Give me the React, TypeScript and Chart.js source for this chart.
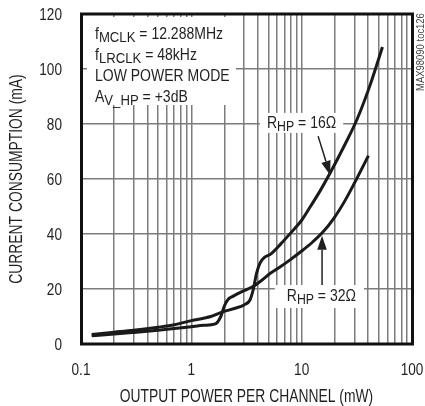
import React, { useEffect, useRef } from "react";
import { Chart, registerables } from "chart.js";

Chart.register(...registerables);

// ---- data ----
const power16: number[] = [0.125, 0.2, 0.3, 0.5, 0.7, 1, 1.5, 1.9, 2.5, 3.0, 3.4, 3.65, 3.9, 4.2, 4.6, 5.2, 6.5, 8, 10, 12, 14.6, 18, 25, 32, 42, 54];
const current16: number[] = [3.5, 4.3, 5.0, 6.1, 7.0, 8.5, 10.0, 11.6, 13.0, 14.2, 16.0, 20.0, 25.7, 29.5, 31.5, 32.6, 36.5, 40.5, 45.0, 50.0, 55.5, 62.0, 73.0, 82.0, 94.5, 108.0];

const power32: number[] = [0.125, 0.2, 0.3, 0.5, 0.7, 1, 1.3, 1.65, 1.85, 2.0, 2.15, 2.4, 3.0, 3.65, 4.3, 5.2, 6.5, 7.85, 10, 12.5, 15.5, 19.5, 25, 32, 40.3];
const current32: number[] = [3.0, 3.6, 4.2, 5.0, 5.6, 6.3, 6.8, 7.3, 10.0, 14.0, 16.2, 17.4, 19.4, 21.0, 23.0, 25.7, 28.3, 30.6, 33.8, 37.0, 40.6, 45.6, 52.5, 60.6, 68.5];

const xDecades: number[] = [-1, 0, 1];
const xMultipliers: number[] = [1, 2, 3, 4, 5, 6, 7, 8, 9];
const xLabelValues: number[] = [0.1, 1, 10, 100];
const xLabelTexts: string[] = ["0.1", "1", "10", "100"];
const yTicks: number[] = [0, 20, 40, 60, 80, 100, 120];

const xTitle = "OUTPUT POWER PER CHANNEL (mW)";
const yTitle = "CURRENT CONSUMPTION (mA)";
const sideText = "MAX98090 toc126";

const FONT = '"Liberation Sans", Arial, sans-serif';
const INK = "#231f20";
const GRID = "#7c7c7c";

type Part = { t: string; sub?: boolean };

// horizontally condensed text (emulates a narrow typeface)
function textN(ctx: CanvasRenderingContext2D, s: string, x: number, y: number, size: number, sx: number, align: CanvasTextAlign = "left") {
  ctx.save();
  ctx.font = `${size}px ${FONT}`;
  ctx.textAlign = align;
  ctx.textBaseline = "alphabetic";
  ctx.translate(x, y);
  ctx.scale(sx, 1);
  ctx.fillText(s, 0, 0);
  ctx.restore();
}

function drawRich(ctx: CanvasRenderingContext2D, x: number, y: number, parts: Part[], size: number, subSize: number, subShift: number, sx: number, doDraw = true): number {
  let cx = x;
  for (const p of parts) {
    const sz = p.sub ? subSize : size;
    ctx.font = `${sz}px ${FONT}`;
    const w = ctx.measureText(p.t).width * sx;
    if (doDraw) textN(ctx, p.t, cx, y + (p.sub ? subShift : 0), sz, sx);
    cx += w;
  }
  return cx - x;
}

function arrow(ctx: CanvasRenderingContext2D, x0: number, y0: number, x1: number, y1: number) {
  const ang = Math.atan2(y1 - y0, x1 - x0);
  const hl = 14, hw = 4.8;
  const bx = x1 - hl * Math.cos(ang), by = y1 - hl * Math.sin(ang);
  ctx.save();
  ctx.strokeStyle = INK;
  ctx.fillStyle = INK;
  ctx.lineWidth = 1.5;
  ctx.beginPath();
  ctx.moveTo(x0, y0);
  ctx.lineTo(bx, by);
  ctx.stroke();
  ctx.beginPath();
  ctx.moveTo(x1, y1);
  ctx.lineTo(bx + hw * Math.sin(ang), by - hw * Math.cos(ang));
  ctx.lineTo(bx - hw * Math.sin(ang), by + hw * Math.cos(ang));
  ctx.closePath();
  ctx.fill();
  ctx.restore();
}

const line1: Part[] = [{ t: "f" }, { t: "MCLK", sub: true }, { t: " = 12.288MHz" }];
const line2: Part[] = [{ t: "f" }, { t: "LRCLK", sub: true }, { t: " = 48kHz" }];
const line3: Part[] = [{ t: "LOW POWER MODE" }];
const line4: Part[] = [{ t: "A" }, { t: "V_HP", sub: true }, { t: " = +3dB" }];
const label16: Part[] = [{ t: "R" }, { t: "HP", sub: true }, { t: " = 16Ω" }];
const label32: Part[] = [{ t: "R" }, { t: "HP", sub: true }, { t: " = 32Ω" }];

// annotation anchors in data units
const label16At = { x: 4.85, y: 78.4 };
const label32At = { x: 7.33, y: 15.8 };
const arrow16 = { from: { x: 14.1, y: 75.6 }, to: { x: 18.1, y: 61.5 } };
const arrow32 = { from: { x: 15.3, y: 21.5 }, to: { x: 15.3, y: 39.4 } };

const AS = 16.3, ASUB = 15.3, ASX = 0.86;

const annotPlugin = {
  id: "annot",
  beforeDatasetsDraw(chart: any) {
    const ctx: CanvasRenderingContext2D = chart.ctx;
    const { left, top } = chart.chartArea;
    const xs = chart.scales.x, ys = chart.scales.y;
    ctx.save();
    ctx.fillStyle = "#ffffff";
    ctx.fillRect(left + 6, top + 3, 149, 88);
    const w16 = drawRich(ctx, 0, 0, label16, AS, ASUB - 1, 3, ASX, false);
    const a16x = xs.getPixelForValue(label16At.x), a16y = ys.getPixelForValue(label16At.y);
    ctx.fillStyle = "#ffffff";
    ctx.fillRect(a16x - 7, a16y - 15.5, w16 + 14, 20);
    const w32 = drawRich(ctx, 0, 0, label32, AS, ASUB - 1, 3, ASX, false);
    const a32x = xs.getPixelForValue(label32At.x), a32y = ys.getPixelForValue(label32At.y);
    ctx.fillStyle = "#ffffff";
    ctx.fillRect(a32x - 12, a32y - 15.5, w32 + 20, 23);
    ctx.restore();
  },
  afterDatasetsDraw(chart: any) {
    const ctx: CanvasRenderingContext2D = chart.ctx;
    const { left, top } = chart.chartArea;
    const xs = chart.scales.x, ys = chart.scales.y;
    ctx.save();
    ctx.fillStyle = INK;
    const tx = left + 14;
    drawRich(ctx, tx, top + 24.5, line1, AS, ASUB, 3, ASX);
    drawRich(ctx, tx, top + 45.5, line2, AS, ASUB, 3, ASX);
    drawRich(ctx, tx, top + 67, line3, AS, ASUB, 3, ASX);
    drawRich(ctx, tx, top + 88, line4, AS, ASUB, 3, ASX);
    drawRich(ctx, xs.getPixelForValue(label16At.x), ys.getPixelForValue(label16At.y), label16, AS, ASUB - 1, 3, ASX);
    drawRich(ctx, xs.getPixelForValue(label32At.x), ys.getPixelForValue(label32At.y), label32, AS, ASUB - 1, 3, ASX);
    ctx.restore();
    arrow(ctx, xs.getPixelForValue(arrow16.from.x), ys.getPixelForValue(arrow16.from.y), xs.getPixelForValue(arrow16.to.x), ys.getPixelForValue(arrow16.to.y));
    arrow(ctx, xs.getPixelForValue(arrow32.from.x), ys.getPixelForValue(arrow32.from.y), xs.getPixelForValue(arrow32.to.x), ys.getPixelForValue(arrow32.to.y));
  },
  afterDraw(chart: any) {
    const ctx: CanvasRenderingContext2D = chart.ctx;
    const { left, top, right, bottom } = chart.chartArea;
    const xs = chart.scales.x, ys = chart.scales.y;
    ctx.save();
    ctx.strokeStyle = "#111";
    ctx.lineWidth = 3;
    ctx.strokeRect(left + 0.5, top, right - left, bottom - top);
    ctx.fillStyle = INK;
    // tick labels
    xLabelValues.forEach((v, i) => {
      textN(ctx, xLabelTexts[i], xs.getPixelForValue(v), bottom + 31, 17, 0.8, "center");
    });
    yTicks.forEach((v) => {
      textN(ctx, String(v), left - 19, ys.getPixelForValue(v) + 6, 17, 0.8, "right");
    });
    // axis titles
    textN(ctx, xTitle, (left + right) / 2, 402, 18, 0.77, "center");
    ctx.save();
    ctx.translate(21.5, (top + bottom) / 2);
    ctx.rotate(-Math.PI / 2);
    textN(ctx, yTitle, 0, 0, 18, 0.77, "center");
    ctx.restore();
    // side text
    ctx.save();
    ctx.fillStyle = "#444";
    ctx.translate(424, 52);
    ctx.rotate(-Math.PI / 2);
    textN(ctx, sideText, 0, 0, 10.5, 0.9, "center");
    ctx.restore();
    ctx.restore();
  },
};

export default function App() {
  const ref = useRef<HTMLCanvasElement | null>(null);
  useEffect(() => {
    document.body.style.margin = "0";
    const canvas = ref.current;
    if (!canvas) return;
    const xTickVals: number[] = [];
    for (const e of xDecades) for (const m of xMultipliers) xTickVals.push(parseFloat((m * Math.pow(10, e)).toPrecision(3)));
    xTickVals.push(100);
    const chart = new Chart(canvas, {
      type: "line",
      data: {
        datasets: [
          {
            label: "RHP = 16Ω",
            data: power16.map((p, i) => ({ x: p, y: current16[i] })),
            borderColor: "#1a1a1a",
            borderWidth: 3,
            pointRadius: 0,
            cubicInterpolationMode: "monotone",
            fill: false,
          },
          {
            label: "RHP = 32Ω",
            data: power32.map((p, i) => ({ x: p, y: current32[i] })),
            borderColor: "#1a1a1a",
            borderWidth: 3,
            pointRadius: 0,
            cubicInterpolationMode: "monotone",
            fill: false,
          },
        ],
      },
      options: {
        animation: false,
        responsive: false,
        devicePixelRatio: 1,
        layout: { padding: { left: 0, top: 14, right: 13, bottom: 0 } },
        plugins: { legend: { display: false }, tooltip: { enabled: false } },
        scales: {
          x: {
            type: "logarithmic",
            min: 0.1,
            max: 100,
            afterBuildTicks: (scale: any) => {
              scale.ticks = xTickVals.map((v) => ({ value: v }));
            },
            afterFit: (scale: any) => {
              scale.height = 62;
            },
            ticks: { display: false },
            grid: { color: GRID, lineWidth: 1.5, drawTicks: false },
            border: { display: false },
          },
          y: {
            type: "linear",
            min: 0,
            max: 120,
            afterBuildTicks: (scale: any) => {
              scale.ticks = yTicks.map((v) => ({ value: v }));
            },
            afterFit: (scale: any) => {
              scale.width = 81;
            },
            ticks: { display: false },
            grid: { color: GRID, lineWidth: 1.5, drawTicks: false },
            border: { display: false },
          },
        },
      },
      plugins: [annotPlugin],
    } as any);
    return () => chart.destroy();
  }, []);
  return (
    <div style={{ position: "absolute", left: 0, top: 0, width: 425, height: 406 }}>
      <canvas ref={ref} width={425} height={406} style={{ display: "block", width: 425, height: 406 }} />
    </div>
  );
}
